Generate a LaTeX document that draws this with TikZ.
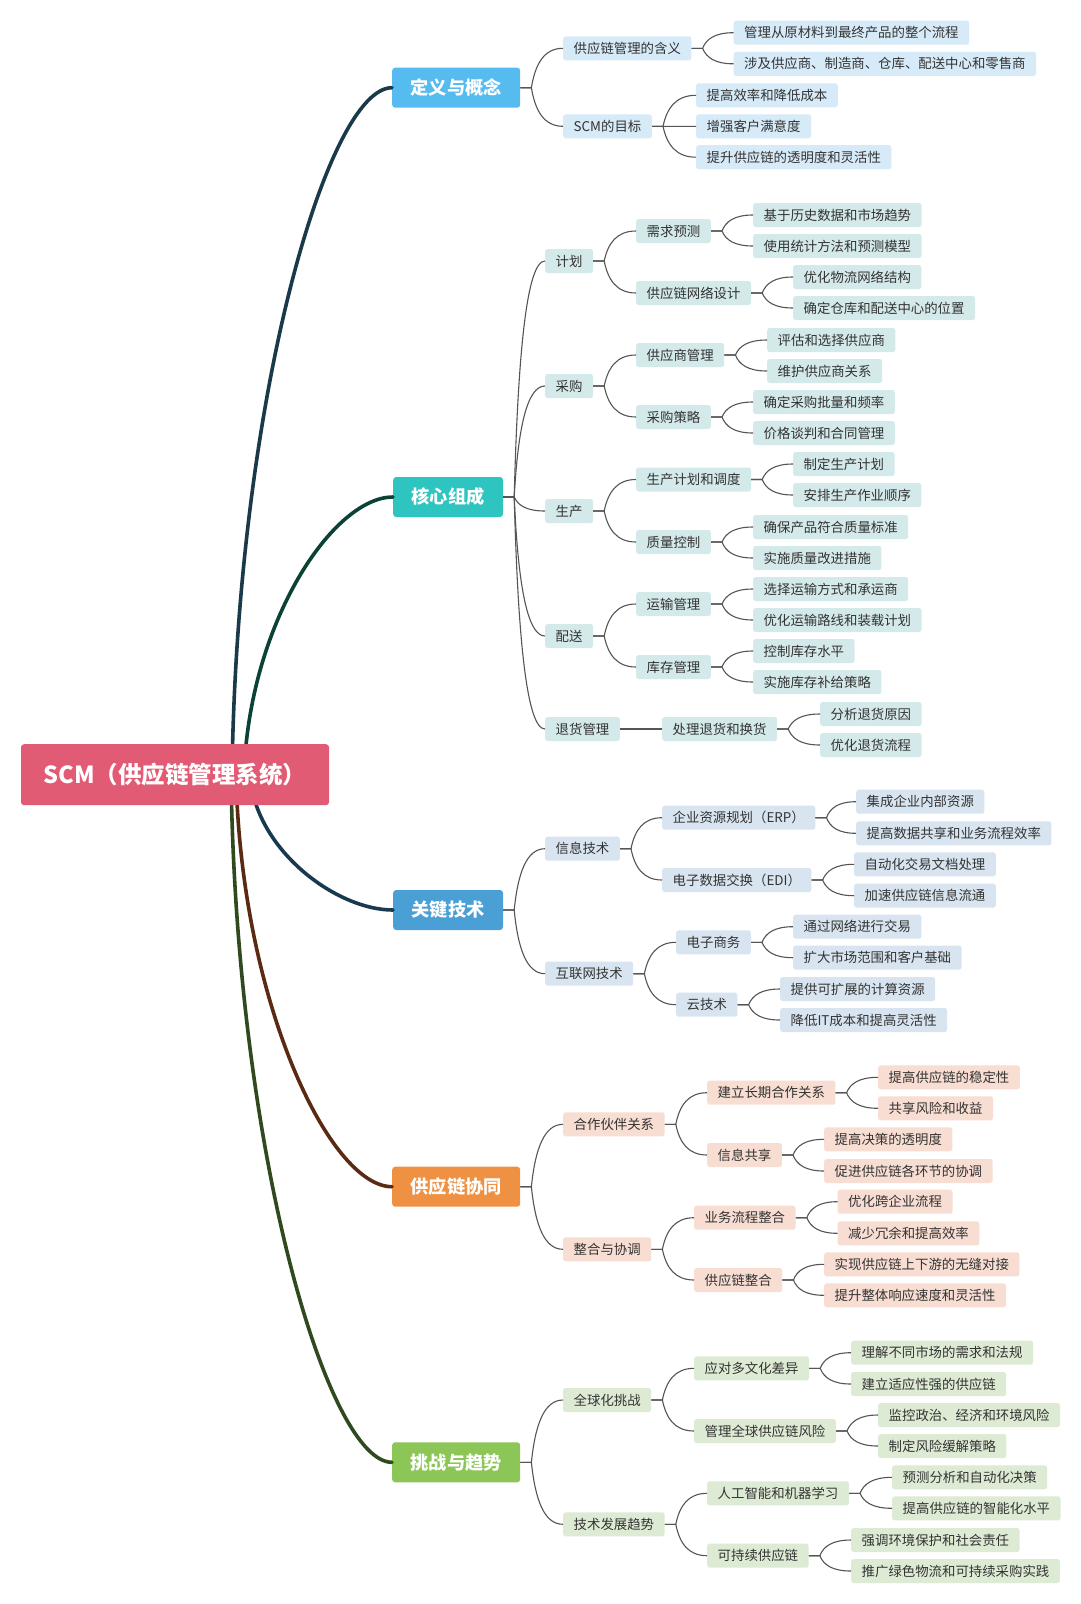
\documentclass[tikz,border=0pt]{standalone}
\usepackage{fontspec}
\setmainfont{Noto Sans CJK SC}
\usetikzlibrary{calc}

\definecolor{rootred}{HTML}{E15B74}
\definecolor{defblue}{HTML}{56BBEE}
\definecolor{coreteal}{HTML}{2EC4C0}
\definecolor{techblue}{HTML}{4AA0D5}
\definecolor{coopor}{HTML}{EF9143}
\definecolor{trendgr}{HTML}{8CC657}
\definecolor{defsub}{HTML}{D6EAF8}
\definecolor{coresub}{HTML}{D4E9EA}
\definecolor{techsub}{HTML}{D8E5F0}
\definecolor{coopsub}{HTML}{F8DDD2}
\definecolor{trendsub}{HTML}{DDEBD4}
\definecolor{deftrunk}{HTML}{1A3A4A}
\definecolor{coretrunk}{HTML}{0A4236}
\definecolor{techtrunk}{HTML}{173A50}
\definecolor{cooptrunk}{HTML}{5A2A12}
\definecolor{trendtrunk}{HTML}{2F4A1E}
\definecolor{linkgray}{HTML}{555555}
\definecolor{textgray}{HTML}{333333}

\tikzset{
  root/.style={fill=rootred, text=white, rounded corners=3pt,
    font=\fontsize{23.5}{28}\selectfont\bfseries,
    minimum width=308pt, minimum height=61pt},
  topic/.style={fill=#1, text=white, rounded corners=3pt,
    font=\fontsize{18.2}{22}\selectfont\bfseries,
    inner xsep=18.5pt, inner ysep=0pt, minimum height=40pt, anchor=west},
  item/.style={fill=#1, text=textgray, rounded corners=2.5pt,
    font=\fontsize{13.4}{16}\selectfont,
    inner xsep=10.5pt, inner ysep=0pt, minimum height=24pt, anchor=west},
  link/.style={draw=linkgray, line width=1.1pt},
  trunk/.style={draw=#1, line width=3.6pt, line cap=round},
}

% branch from a box to a child box, through a short stub
\newcommand{\fork}[2]{%
  \draw[link] let \p1=([xshift=11pt]#1.east), \p2=(#2.west) in
    (#1.east) -- (\p1) .. controls ({\x1+0.12*(\x2-\x1)},{0.4*\y1+0.6*\y2})
    and ({\x1+0.4*(\x2-\x1)},\y2) .. (\p2);}

% thick branch from the root to a main topic
\newcommand{\trunk}[3]{%
  \draw[trunk=#1] let \p1=(#3,775), \p2=(#2.west) in
    (\p1) .. controls ({\x1+5pt},{0.45*\y1+0.55*\y2})
    and ({\x1+0.6*(\x2-\x1)},\y2) .. (\p2);}

\begin{document}
\begin{tikzpicture}[x=1pt, y=-1pt]
    \fill[white] (0,0) rectangle (1080,1604);
    \useasboundingbox (0,0) rectangle (1080,1604);

    % main topics
    \node[topic=defblue] (def) at (392,87.7) {定义与概念};
    \node[topic=coreteal] (core) at (393,497) {核心组成};
    \node[topic=techblue] (tech) at (393,910) {关键技术};
    \node[topic=coopor] (coop) at (392,1186.7) {供应链协同};
    \node[topic=trendgr] (trend) at (392,1462.3) {挑战与趋势};

    % definition
    \foreach \n/\x/\y/\t in {d1/563/48.3/供应链管理的含义, d2/563/126.3/SCM的目标,
      d11/733.5/32.7/管理从原材料到最终产品的整个流程,
      d12/733.5/63.8/涉及供应商、制造商、仓库、配送中心和零售商,
      d21/696/95.3/提高效率和降低成本, d22/696/126.3/增强客户满意度,
      d23/696/157.2/提升供应链的透明度和灵活性}
    \node[item=defsub] (\n) at (\x,\y) {\t};

    % core parts
    \foreach \n/\x/\y/\t in {c1/545/261/计划, c2/545/386/采购, c3/545/511/生产,
      c4/545/636/配送, c5/545/729/退货管理,
      c11/636/231/需求预测, c12/636/293/供应链网络设计,
      c21/636/355/供应商管理, c22/636/417/采购策略,
      c31/636/479.5/生产计划和调度, c32/636/542/质量控制,
      c41/636/604/运输管理, c42/636/667/库存管理,
      c51/662/729/处理退货和换货,
      c111/753/215/基于历史数据和市场趋势, c112/753/246/使用统计方法和预测模型,
      c121/793/277/优化物流网络结构, c122/793/308/确定仓库和配送中心的位置,
      c211/767/340/评估和选择供应商, c212/767/371/维护供应商关系,
      c221/753/402/确定采购批量和频率, c222/753/433/价格谈判和合同管理,
      c311/793/464/制定生产计划, c312/793/495/安排生产作业顺序,
      c321/753/527/确保产品符合质量标准, c322/753/558/实施质量改进措施,
      c411/753/589/选择运输方式和承运商, c412/753/620/优化运输路线和装载计划,
      c421/753/651/控制库存水平, c422/753/682/实施库存补给策略,
      c511/820/714/分析退货原因, c512/820/745/优化退货流程}
    \node[item=coresub] (\n) at (\x,\y) {\t};

    % key technologies
    \foreach \n/\x/\y/\t in {t1/545/848.7/信息技术, t2/545/973.7/互联网技术,
      t11/662/817.7/企业资源规划（ERP）, t12/662/880/电子数据交换（EDI）,
      t21/676/942.3/电子商务, t22/676/1004.7/云技术,
      t111/856/801.7/集成企业内部资源, t112/856/833.3/提高数据共享和业务流程效率,
      t121/854/864.3/自动化交易文档处理, t122/854/895.7/加速供应链信息流通,
      t211/793/926.7/通过网络进行交易, t212/793/957.7/扩大市场范围和客户基础,
      t221/780/989/提供可扩展的计算资源, t222/780/1020/降低IT成本和提高灵活性}
    \node[item=techsub] (\n) at (\x,\y) {\t};

    % cooperation
    \foreach \n/\x/\y/\t in {p1/563/1124.3/合作伙伴关系, p2/563/1249.3/整合与协调,
      p11/707/1092.7/建立长期合作关系, p12/707/1155/信息共享,
      p21/694/1217.7/业务流程整合, p22/694/1280/供应链整合,
      p111/878/1077.3/提高供应链的稳定性, p112/878/1108.3/共享风险和收益,
      p121/824/1139.3/提高决策的透明度, p122/824/1171/促进供应链各环节的协调,
      p211/837.5/1201.7/优化跨企业流程, p212/837.5/1233.3/减少冗余和提高效率,
      p221/824/1264.3/实现供应链上下游的无缝对接, p222/824/1295.3/提升整体响应速度和灵活性}
    \node[item=coopsub] (\n) at (\x,\y) {\t};

    % challenges and trends
    \foreach \n/\x/\y/\t in {r1/563/1400/全球化挑战, r2/563/1524.3/技术发展趋势,
      r11/694/1368.3/应对多文化差异, r12/694/1431/管理全球供应链风险,
      r21/707/1493.3/人工智能和机器学习, r22/707/1555.7/可持续供应链,
      r111/851/1352.7/理解不同市场的需求和法规, r112/851/1384/建立适应性强的供应链,
      r121/878/1415/监控政治、经济和环境风险, r122/878/1446/制定风险缓解策略,
      r211/892/1477.3/预测分析和自动化决策, r212/892/1508.3/提高供应链的智能化水平,
      r221/851/1540/强调环境保护和社会责任, r222/851/1571/推广绿色物流和可持续采购实践}
    \node[item=trendsub] (\n) at (\x,\y) {\t};

    % thin branches
    \foreach \a/\b in {def/d1, def/d2, d1/d11, d1/d12, d2/d21, d2/d22, d2/d23,
      core/c1, core/c2, core/c3, core/c4, core/c5,
      c1/c11, c1/c12, c2/c21, c2/c22, c3/c31, c3/c32, c4/c41, c4/c42, c5/c51,
      c11/c111, c11/c112, c12/c121, c12/c122, c21/c211, c21/c212,
      c22/c221, c22/c222, c31/c311, c31/c312, c32/c321, c32/c322,
      c41/c411, c41/c412, c42/c421, c42/c422, c51/c511, c51/c512,
      tech/t1, tech/t2, t1/t11, t1/t12, t2/t21, t2/t22,
      t11/t111, t11/t112, t12/t121, t12/t122, t21/t211, t21/t212, t22/t221, t22/t222,
      coop/p1, coop/p2, p1/p11, p1/p12, p2/p21, p2/p22,
      p11/p111, p11/p112, p12/p121, p12/p122, p21/p211, p21/p212, p22/p221, p22/p222,
      trend/r1, trend/r2, r1/r11, r1/r12, r2/r21, r2/r22,
      r11/r111, r11/r112, r12/r121, r12/r122, r21/r211, r21/r212, r22/r221, r22/r222}
    \fork{\a}{\b};

    % thick branches from the root
    \trunk{deftrunk}{def}{232}
    \trunk{coretrunk}{core}{244}
    \trunk{techtrunk}{tech}{250}
    \trunk{cooptrunk}{coop}{236}
    \trunk{trendtrunk}{trend}{231}

    \node[root] (scm) at (175,774.7) {SCM（供应链管理系统）};
\end{tikzpicture}
\end{document}
